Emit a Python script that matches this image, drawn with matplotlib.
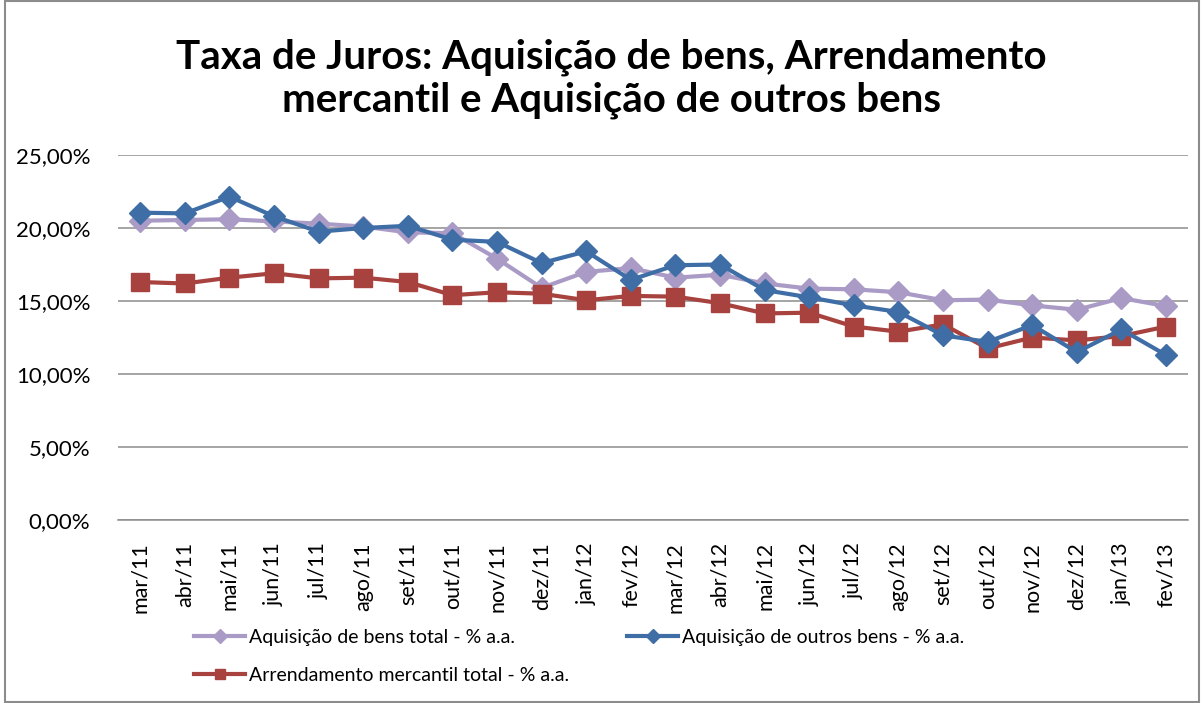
import matplotlib
matplotlib.use('Agg')
import matplotlib.pyplot as plt
from matplotlib.ticker import FuncFormatter
from matplotlib.patches import Rectangle

# ── data ───────────────────────────────────────────────────────────────────────
months = ['mar/11', 'abr/11', 'mai/11', 'jun/11', 'jul/11', 'ago/11', 'set/11',
          'out/11', 'nov/11', 'dez/11', 'jan/12', 'fev/12', 'mar/12', 'abr/12',
          'mai/12', 'jun/12', 'jul/12', 'ago/12', 'set/12', 'out/12', 'nov/12',
          'dez/12', 'jan/13', 'fev/13']

aquisicao_bens = [20.5, 20.55, 20.6, 20.45, 20.3, 20.1, 19.7, 19.65, 17.9, 15.9,
                  17.0, 17.25, 16.6, 16.8, 16.2, 15.85, 15.8, 15.6, 15.05, 15.1,
                  14.7, 14.4, 15.2, 14.65]
outros_bens = [21.05, 21.0, 22.15, 20.8, 19.75, 20.0, 20.15, 19.2, 19.05, 17.6,
               18.4, 16.45, 17.45, 17.5, 15.75, 15.25, 14.7, 14.25, 12.65, 12.2,
               13.35, 11.5, 13.05, 11.3]
arrendamento = [16.3, 16.2, 16.6, 16.9, 16.55, 16.6, 16.3, 15.4, 15.6, 15.5,
                15.05, 15.35, 15.3, 14.85, 14.15, 14.2, 13.25, 12.9, 13.4, 11.75,
                12.5, 12.3, 12.6, 13.25]

y_ticks = [0, 5, 10, 15, 20, 25]

LILAC = '#A99BC6'
BLUE = '#3F6EA7'
RED = '#A8423F'

plt.rcParams['font.family'] = ['Lato', 'DejaVu Sans']

fig = plt.figure(figsize=(12.04, 7.03), dpi=100)
fig.patch.set_facecolor('white')
fig.patches.append(Rectangle((0.004, 0.002), 0.992, 0.996, transform=fig.transFigure,
                             fill=False, edgecolor='#8C8C8C', linewidth=1.5))

ax = fig.add_axes([0.098, 0.2603, 0.889, 0.5192])
x = list(range(len(months)))

ax.plot(x, aquisicao_bens, color=LILAC, linewidth=3, marker='D', markersize=11.5,
        label='Aquisição de bens total - % a.a.', zorder=3)
ax.plot(x, arrendamento, color=RED, linewidth=3, marker='s', markersize=12.5,
        label='Arrendamento mercantil total - % a.a.', zorder=4)
ax.plot(x, outros_bens, color=BLUE, linewidth=3, marker='D', markersize=11.5,
        label='Aquisição de outros bens - % a.a.', zorder=5)

ax.set_xlim(-0.5, len(months) - 0.5)
ax.set_ylim(0, 25)
ax.set_yticks(y_ticks)
ax.yaxis.set_major_formatter(FuncFormatter(lambda v, p: f'{v:.2f}%'.replace('.', ',')))
ax.set_xticks(x)
ax.set_xticklabels(months, rotation=90, fontsize=15.5)
ax.tick_params(axis='y', labelsize=16, length=0, pad=20)
ax.tick_params(axis='x', length=0, pad=16)
ax.grid(axis='y', color='#8C8C8C', linewidth=1.1)
ax.set_axisbelow(True)
for s in ['top', 'right', 'left']:
    ax.spines[s].set_visible(False)
ax.spines['bottom'].set_color('#8C8C8C')
ax.spines['bottom'].set_linewidth(1.1)

fig.text(0.508, 0.888, 'Taxa de Juros: Aquisição de bens, Arrendamento\nmercantil e Aquisição de outros bens',
         ha='center', va='center', fontsize=29, fontweight='bold', linespacing=1.2)

ax.legend(loc='upper left', bbox_to_anchor=(0.055, -0.25), ncol=2, frameon=False,
          fontsize=14, handlelength=2.6, columnspacing=3.0, labelspacing=1.1,
          handletextpad=0.2, markerscale=0.6)

plt.savefig('out.png', dpi=100, facecolor='white')
plt.close()
print("saved")
